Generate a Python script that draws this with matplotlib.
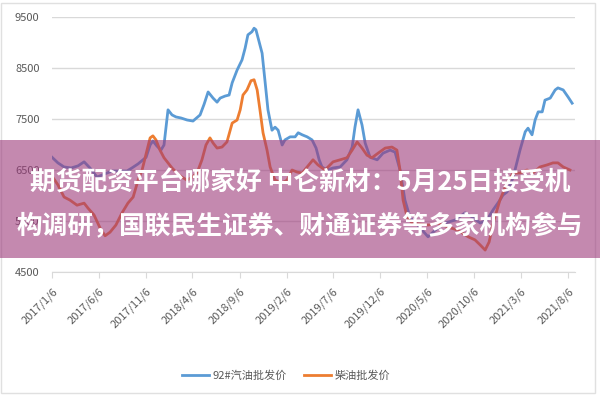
import matplotlib
matplotlib.use("Agg")
import matplotlib.pyplot as plt
import pandas as pd
from matplotlib.patches import Rectangle

plt.rcParams['font.family'] = ['Noto Sans CJK SC', 'DejaVu Sans']

# 92# gasoline wholesale price
gas_dates = ["2017-01-06", "2017-01-25", "2017-02-14", "2017-03-09", "2017-03-31", "2017-04-20",
             "2017-05-09", "2017-06-01", "2017-06-24", "2017-07-20", "2017-08-14", "2017-09-06",
             "2017-09-22", "2017-10-12", "2017-11-07", "2017-11-20", "2017-11-29", "2017-12-12",
             "2017-12-25", "2018-01-04", "2018-01-17", "2018-01-30", "2018-02-12", "2018-02-28",
             "2018-03-20", "2018-04-08", "2018-05-01", "2018-05-14", "2018-05-27", "2018-06-12",
             "2018-06-25", "2018-07-05", "2018-07-21", "2018-08-03", "2018-08-13", "2018-08-29",
             "2018-09-14", "2018-09-24", "2018-10-03", "2018-10-16", "2018-10-23", "2018-10-29",
             "2018-11-05", "2018-11-18", "2018-11-28", "2018-12-07", "2018-12-20", "2018-12-30",
             "2019-01-09", "2019-01-22", "2019-01-31", "2019-02-17", "2019-03-05", "2019-03-15",
             "2019-03-28", "2019-04-13", "2019-04-29", "2019-05-12", "2019-05-22", "2019-05-31",
             "2019-06-17", "2019-07-06", "2019-07-29", "2019-08-20", "2019-09-06", "2019-09-15",
             "2019-09-25", "2019-10-08", "2019-10-18", "2019-11-03", "2019-11-26", "2019-12-15",
             "2020-01-07", "2020-01-23", "2020-02-08", "2020-02-24", "2020-03-12", "2020-03-28",
             "2020-04-20", "2020-05-09", "2020-06-01", "2020-07-03", "2020-08-05", "2020-09-06",
             "2020-09-29", "2020-10-25", "2020-11-16", "2020-12-06", "2020-12-28", "2021-01-07",
             "2021-01-20", "2021-02-09", "2021-03-03", "2021-03-20", "2021-03-29", "2021-04-11",
             "2021-04-21", "2021-05-01", "2021-05-14", "2021-05-23", "2021-06-09", "2021-06-25",
             "2021-07-04", "2021-07-21", "2021-08-06", "2021-08-19"]
gas_vals = [6750, 6640, 6560, 6540, 6580, 6660,
            6540, 6360, 6420, 6480, 6480, 6480,
            6540, 6620, 6750, 6990, 7070, 6970,
            6890, 6990, 7680, 7580, 7540, 7520,
            7480, 7460, 7580, 7790, 8030, 7910,
            7830, 7910, 7950, 7970, 8210, 8460,
            8660, 8890, 9150, 9210, 9280, 9250,
            9090, 8790, 8210, 7680, 7280, 7340,
            7280, 6990, 7090, 7150, 7150, 7230,
            7190, 7150, 7090, 6930, 6700, 6560,
            6500, 6540, 6560, 6700, 6950, 7340,
            7680, 7380, 7030, 6750, 6700, 6830,
            6890, 6850, 6500, 5910, 5560, 5480,
            5320, 5190, 5320, 5460, 5520, 5660,
            5580, 5460, 5520, 5720, 5910, 6010,
            6070, 6360, 6890, 7250, 7320, 7190,
            7480, 7640, 7640, 7870, 7910, 8070,
            8110, 8070, 7930, 7810]

# diesel wholesale price
diesel_dates = ["2017-01-06", "2017-01-25", "2017-02-14", "2017-03-05", "2017-03-28", "2017-04-20",
                "2017-05-03", "2017-05-22", "2017-06-11", "2017-06-27", "2017-07-13", "2017-08-01",
                "2017-08-21", "2017-09-09", "2017-09-26", "2017-10-12", "2017-10-25", "2017-11-10",
                "2017-11-20", "2017-11-29", "2017-12-09", "2017-12-22", "2018-01-04", "2018-01-17",
                "2018-01-30", "2018-02-15", "2018-03-03", "2018-03-20", "2018-04-05", "2018-04-21",
                "2018-05-07", "2018-05-20", "2018-06-02", "2018-06-12", "2018-06-25", "2018-07-11",
                "2018-07-27", "2018-08-13", "2018-08-29", "2018-09-08", "2018-09-17", "2018-09-30",
                "2018-10-13", "2018-10-23", "2018-11-02", "2018-11-11", "2018-11-21", "2018-12-04",
                "2018-12-14", "2018-12-30", "2019-01-22", "2019-02-07", "2019-02-23", "2019-03-11",
                "2019-03-28", "2019-04-13", "2019-05-02", "2019-05-18", "2019-06-10", "2019-07-06",
                "2019-07-29", "2019-08-20", "2019-09-06", "2019-09-22", "2019-10-08", "2019-10-24",
                "2019-11-09", "2019-11-29", "2019-12-22", "2020-01-13", "2020-01-29", "2020-02-08",
                "2020-02-18", "2020-03-02", "2020-03-18", "2020-04-13", "2020-05-09", "2020-06-10",
                "2020-07-13", "2020-08-14", "2020-09-16", "2020-10-08", "2020-10-25", "2020-11-10",
                "2020-11-23", "2020-12-06", "2020-12-28", "2021-01-20", "2021-02-09", "2021-03-03",
                "2021-03-26", "2021-04-14", "2021-05-07", "2021-05-30", "2021-06-18", "2021-07-04",
                "2021-07-21", "2021-08-12"]
diesel_vals = [6380, 6210, 5970, 5910, 5810, 5850,
               5750, 5620, 5360, 5210, 5280, 5420,
               5660, 5850, 5970, 6300, 6500, 6890,
               7130, 7170, 7090, 6890, 6740, 6640,
               6540, 6440, 6360, 6300, 6360, 6440,
               6700, 6990, 7130, 7030, 6930, 6950,
               7050, 7420, 7480, 7680, 7970, 8070,
               8250, 8270, 8070, 7680, 7230, 6890,
               6560, 6300, 6250, 6300, 6500, 6460,
               6440, 6560, 6700, 6600, 6500, 6660,
               6700, 6740, 6890, 7050, 6930, 6790,
               6740, 6830, 6930, 6950, 6890, 6500,
               5910, 5580, 5460, 5440, 5420, 5460,
               5380, 5320, 5190, 5130, 5030, 4930,
               5090, 5460, 5910, 6250, 6440, 6440,
               6500, 6440, 6560, 6600, 6640, 6640,
               6560, 6500]

tick_dates = ["2017-01-06", "2017-06-06", "2017-11-06", "2018-04-06", "2018-09-06", "2019-02-06",
              "2019-07-06", "2019-12-06", "2020-05-06", "2020-10-06", "2021-03-06", "2021-08-06"]
tick_labels = ["2017/1/6", "2017/6/6", "2017/11/6", "2018/4/6", "2018/9/6", "2019/2/6",
               "2019/7/6", "2019/12/6", "2020/5/6", "2020/10/6", "2021/3/6", "2021/8/6"]
y_ticks = [4500, 5500, 6500, 7500, 8500, 9500]
series_names = ["92#汽油批发价", "柴油批发价"]
banner_lines = ["期货配资平台哪家好 中仑新材：5月25日接受机",
                "构调研，国联民生证券、财通证券等多家机构参与"]

fig = plt.figure(figsize=(6, 4), dpi=100)
ax = fig.add_axes([0.0867, 0.32, 0.872, 0.6375])

ax.plot(pd.to_datetime(gas_dates), gas_vals, color="#5B9BD5", lw=2, label=series_names[0])
ax.plot(pd.to_datetime(diesel_dates), diesel_vals, color="#ED7D31", lw=2, label=series_names[1])

ax.set_ylim(4500, 9500)
ax.set_xlim(pd.Timestamp("2017-01-06"), pd.Timestamp("2021-08-29"))
ax.set_yticks(y_ticks)
ax.set_xticks(pd.to_datetime(tick_dates))
ax.set_xticklabels(tick_labels, rotation=45, ha="right", rotation_mode="anchor")
ax.grid(axis="y", color="#d9d9d9", lw=1)
ax.set_axisbelow(True)
for s in ["top", "right", "left"]:
    ax.spines[s].set_visible(False)
ax.spines["bottom"].set_color("#d9d9d9")
ax.tick_params(axis="y", length=0, pad=9, labelsize=8, labelcolor="#595959")
ax.tick_params(axis="x", length=4, color="#d9d9d9", pad=6, labelsize=8, labelcolor="#595959")

fig.legend(loc="center", bbox_to_anchor=(0.477, 0.06), ncol=2, frameon=False,
           fontsize=8, labelcolor="#595959", handlelength=2.4, handletextpad=0.3,
           columnspacing=1.6)

# outer frame
fig.patches.append(Rectangle((0.002, 0.018), 0.99, 0.975, transform=fig.transFigure,
                             fill=False, edgecolor="#e0e0e0", lw=1, zorder=1))

# translucent banner with the headline
fig.patches.append(Rectangle((0, 0.355), 1, 0.295, transform=fig.transFigure,
                             facecolor="#9D3A7B", alpha=0.6, edgecolor="none", zorder=10))
fig.text(0.5, 0.5425, banner_lines[0], ha="center", va="center", color="white",
         fontsize=18.5, fontweight="bold", zorder=11)
fig.text(0.5, 0.4325, banner_lines[1], ha="center", va="center", color="white",
         fontsize=18.5, fontweight="bold", zorder=11)

fig.savefig("out.png", dpi=100)
